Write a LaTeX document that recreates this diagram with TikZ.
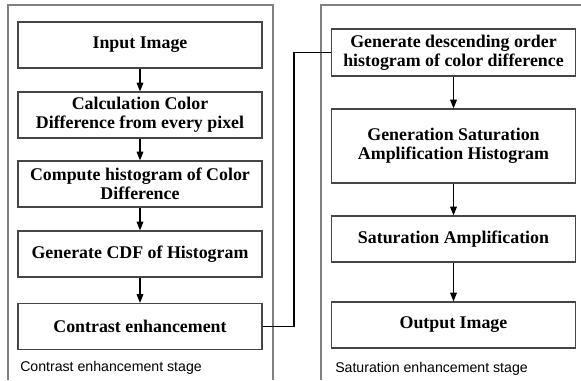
\documentclass[tikz,border=0pt]{standalone}
\usepackage{fontspec}
\setmainfont{Liberation Serif}
\setsansfont{Liberation Sans}
\usetikzlibrary{positioning,calc}
\usetikzlibrary{arrows.meta}
\definecolor{FrameGray}{RGB}{128,128,128}
\definecolor{BoxGray}{RGB}{70,70,70}
\tikzset{
  stagebox/.style={draw=BoxGray,line width=0.9pt,minimum width=183pt,minimum height=34.5pt,
    align=center,inner sep=2pt,font=\fontsize{13.4}{14.4}\selectfont\bfseries},
  frame/.style={draw=FrameGray,line width=1pt},
  flow/.style={draw=black,line width=0.8pt,-{Triangle[length=6.5pt,width=5pt]}},
  link/.style={draw=black,line width=0.8pt},
}
\tikzset{stagelab/.style={anchor=west,inner sep=0pt,font=\sffamily\fontsize{10.6}{12}\selectfont}}

\begin{document}
\begin{tikzpicture}[x=0.75pt,y=-0.75pt]
\useasboundingbox (0,0) rectangle (581,380);
% stage frames
\draw[frame] (8,380)--(8,5)--(273,5)--(273,380);
\draw[frame] (321,380)--(321,5)--(581,5);
% contrast enhancement stage
\node[stagebox] (in) at (140,45) {Input Image};
\node[stagebox] (cd) at (140,115) {Calculation Color\\Difference from every pixel};
\node[stagebox] (hist) at (140,184) {Compute histogram of Color\\Difference};
\node[stagebox] (cdf) at (140,254) {Generate CDF of Histogram};
\node[stagebox] (ce) at (140,326.5) {Contrast enhancement};
\node[stagelab] (clab) at (20,368) {Contrast enhancement stage};
% saturation enhancement stage
\node[stagebox,minimum height=35.25pt] (desc) at (453.5,52.5) {Generate descending order\\histogram of color difference};
\node[stagebox,minimum height=55.5pt] (gen) at (453.5,146) {Generation Saturation\\Amplification Histogram};
\node[stagebox] (amp) at (453.5,239) {Saturation Amplification};
\node[stagebox] (out) at (453.5,325) {Output Image};
\node[stagelab] (slab) at (335,369) {Saturation enhancement stage};
% connectors
\draw[flow] (in)--(cd);
\draw[flow] (cd)--(hist);
\draw[flow] (hist)--(cdf);
\draw[flow] (cdf)--(ce);
\coordinate (c1) at (294,326.5);
\coordinate (c2) at (294,52.5);
\draw[link] (ce.east)--(c1)--(c2)--(desc.west);
\draw[flow] (desc)--(gen);
\draw[flow] (gen)--(amp);
\draw[flow] (amp)--(out);
\end{tikzpicture}
\end{document}
